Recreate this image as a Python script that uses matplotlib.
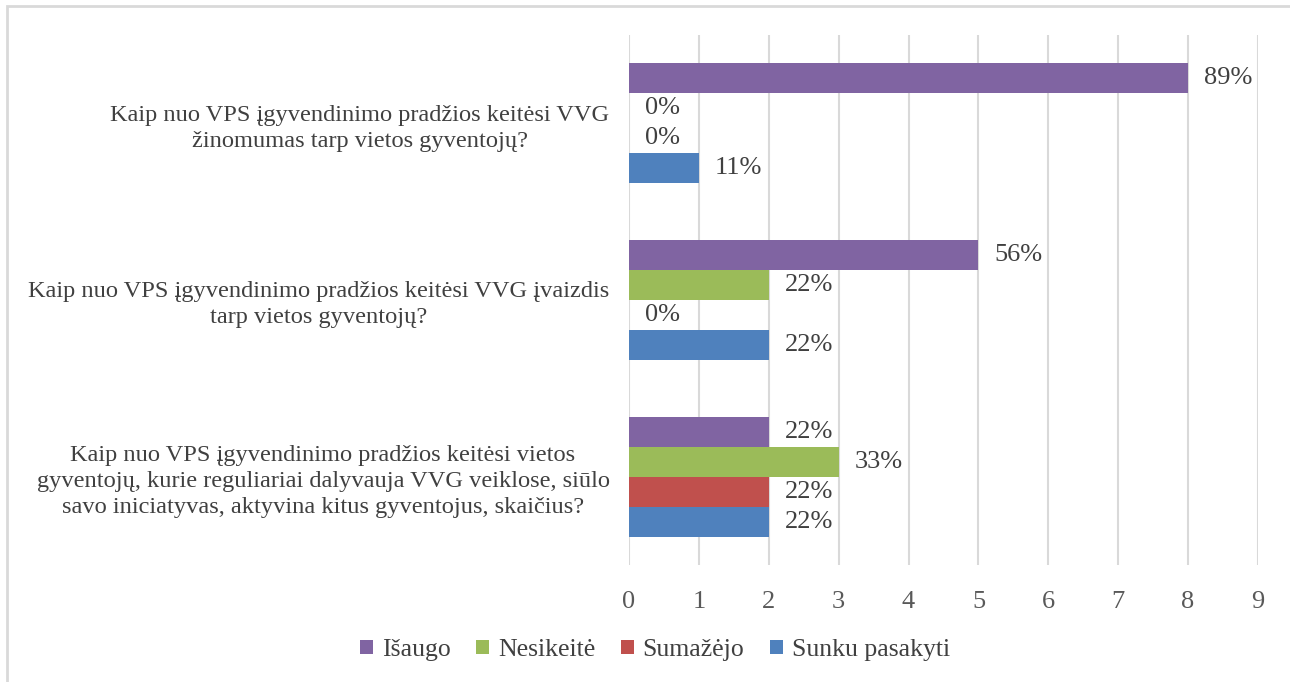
import matplotlib
matplotlib.use('Agg')
import matplotlib.pyplot as plt
from matplotlib.patches import Rectangle
import numpy as np

# --- Data ---
questions = [
    "Kaip nuo VPS įgyvendinimo pradžios keitėsi VVG\nžinomumas tarp vietos gyventojų?",
    "Kaip nuo VPS įgyvendinimo pradžios keitėsi VVG įvaizdis\ntarp vietos gyventojų?",
    "Kaip nuo VPS įgyvendinimo pradžios keitėsi vietos\ngyventojų, kurie reguliariai dalyvauja VVG veiklose, siūlo\nsavo iniciatyvas, aktyvina kitus gyventojus, skaičius?",
]
series_names = ["Išaugo", "Nesikeitė", "Sumažėjo", "Sunku pasakyti"]
isaugo = [8, 5, 2]
nesikeite = [0, 2, 3]
sumazejo = [0, 0, 2]
sunku = [1, 2, 2]
isaugo_pct = ["89%", "56%", "22%"]
nesikeite_pct = ["0%", "22%", "33%"]
sumazejo_pct = ["0%", "0%", "22%"]
sunku_pct = ["11%", "22%", "22%"]

colors = ["#8064A2", "#9BBB59", "#C0504D", "#4F81BD"]
TEXT = "#404040"
GRID = "#D9D9D9"

plt.rcParams['font.family'] = ['Liberation Serif', 'DejaVu Serif']

fig = plt.figure(figsize=(12.9, 6.82), dpi=100)
ax = fig.add_axes([629 / 1290, 1 - 565 / 682, 629 / 1290, 530 / 682])

values = [isaugo, nesikeite, sumazejo, sunku]
pcts = [isaugo_pct, nesikeite_pct, sumazejo_pct, sunku_pct]
y = np.arange(len(questions))
h = 0.17
for i, (vals, labs) in enumerate(zip(values, pcts)):
    pos = y + (i - 1.5) * h
    bars = ax.barh(pos, vals, height=h, color=colors[i], label=series_names[i], zorder=3)
    ax.bar_label(bars, labels=labs, padding=11.5, fontsize=19, color=TEXT)

ax.set_xlim(0, 9)
ax.set_ylim(2.5, -0.5)
ax.set_xticks(range(10))
ax.set_yticks(y)
ax.set_yticklabels(questions, multialignment='center', linespacing=1.3)
ax.tick_params(axis='y', length=0, pad=14, labelsize=17.6, labelcolor=TEXT)
ax.tick_params(axis='x', length=0, pad=19, labelsize=19, labelcolor="#595959")
ax.grid(axis='x', color=GRID, linewidth=1.5, zorder=0)
for s in ax.spines.values():
    s.set_visible(False)

leg = fig.legend(loc='center', bbox_to_anchor=(655 / 1290, 1 - 650 / 682), ncol=4,
                 frameon=False, fontsize=18.5, handlelength=0.5, handleheight=0.5,
                 handletextpad=0.35, columnspacing=1.0)
for t in leg.get_texts():
    t.set_color(TEXT)

# outer chart frame
fig.patches.append(Rectangle((7 / 1290, -0.1), 1.2, 1 - 6 / 682 + 0.1, transform=fig.transFigure,
                             fill=False, edgecolor=GRID, linewidth=2))

fig.savefig("out.png", dpi=100)
